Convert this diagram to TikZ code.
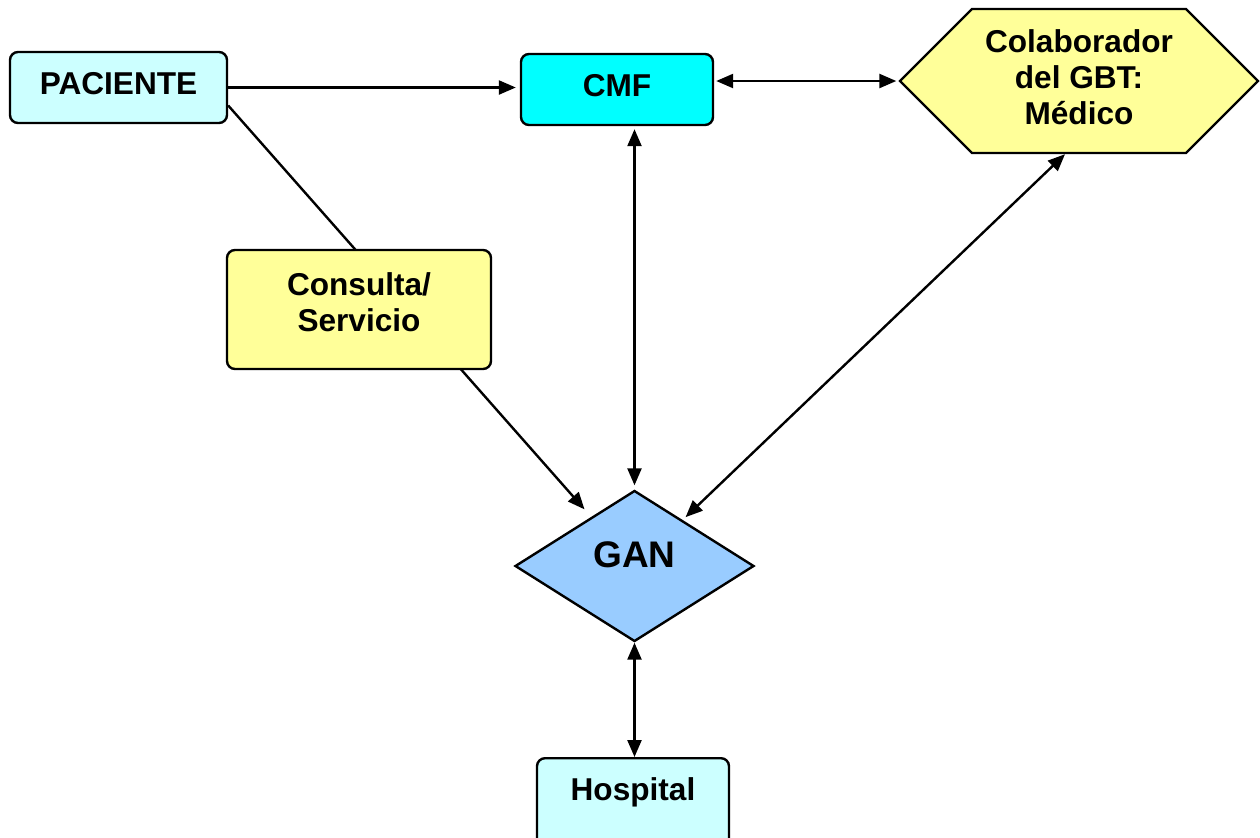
\documentclass[tikz,border=0pt]{standalone}
\usepackage{fontspec}
\setmainfont{Liberation Sans}
\usetikzlibrary{positioning,arrows.meta,shapes,calc}
\definecolor{paleCyan}{HTML}{CCFFFF}
\definecolor{cmfCyan}{HTML}{00FFFF}
\definecolor{paleYellow}{HTML}{FFFF99}
\definecolor{ganBlue}{HTML}{99CCFF}
\tikzset{
  box/.style={draw, line width=1.2pt, rounded corners=4pt, font=\fontsize{15.8}{18}\selectfont\bfseries, align=center, inner sep=0pt},
  arr/.style={line width=1.2pt, -{Triangle[length=8.5pt,width=7pt]}},
  arrr/.style={line width=1.2pt, {Triangle[length=8.5pt,width=7pt]}-{Triangle[length=8.5pt,width=7pt]}}
}

\begin{document}
\begin{tikzpicture}[x=0.5pt,y=-0.5pt]
\def\u{0.5pt}
\useasboundingbox (0,0) rectangle (1260,837);
\clip (0,0) rectangle (1260,837);

% boxes
\node[box, fill=paleCyan, minimum width=217*\u, minimum height=71*\u, text depth=4pt] (paciente) at (118.5,87.5) {PACIENTE};
\node[box, fill=cmfCyan, minimum width=192*\u, minimum height=71*\u, text depth=4pt] (cmf) at (617,89.5) {CMF};
\node[draw, line width=1.2pt, fill=paleYellow, shape=signal, signal to=west and east, inner sep=0pt,
  minimum width=358*\u, minimum height=144*\u, align=center, text depth=4pt, font=\fontsize{15.8}{18}\selectfont\bfseries]
  (colab) at (1079,81) {Colaborador\\del GBT:\\M\'edico};
\node[draw, line width=1.2pt, fill=ganBlue, shape=diamond, aspect=1.6, inner sep=0pt,
  minimum width=239*\u, minimum height=151*\u, text depth=11pt, font=\fontsize{18.5}{22}\selectfont\bfseries]
  (gan) at (634.5,566) {GAN};
\node[box, fill=paleCyan, anchor=north, minimum width=192*\u, inner ysep=9.5pt, text depth=30pt] (hospital) at (633,757) {Hospital};

% paciente to gan, passing under consulta
\draw[arr, shorten >=5pt] ([yshift=-9pt]paciente.east) -- (gan);
\node[box, fill=paleYellow, minimum width=264*\u, minimum height=119*\u, text depth=7pt] (consulta) at (359,309.5) {Consulta/\\Servicio};

% connectors
\draw[arr, shorten >=2pt] (paciente.east) -- (paciente.east -| cmf.west);
\draw[arrr, shorten <=1pt, shorten >=1pt] (cmf.east |- colab.west) -- (colab.west);
\draw[arrr, shorten <=1.5pt, shorten >=2pt] (cmf.south -| gan.north) -- (gan.north);
\draw[arrr, shorten >=2pt] ([xshift=-7pt]colab.south) -- (gan);
\draw[arrr] (gan.south) -- (gan.south |- hospital.north);
\end{tikzpicture}
\end{document}
